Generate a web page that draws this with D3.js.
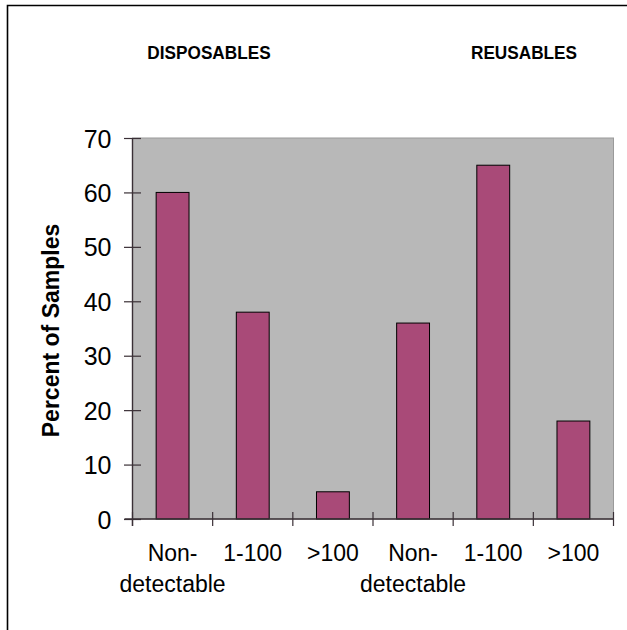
<!DOCTYPE html>
<html>
<head>
<meta charset="utf-8">
<script src="https://cdn.jsdelivr.net/npm/d3@7"></script>
<style>
  html, body { margin: 0; padding: 0; background: #fff; }
  svg { display: block; }
  text { font-family: "Liberation Sans", Arial, sans-serif; fill: #000; }
</style>
</head>
<body>
<div id="chart"></div>
<script>
// ---- data ----
const categories = ["Non-detectable", "1-100", ">100", "Non-detectable", "1-100", ">100"];
const categoryLines = [["Non-", "detectable"], ["1-100"], [">100"], ["Non-", "detectable"], ["1-100"], [">100"]];
const values = [60, 38, 5, 36, 65, 18];
const groupTitles = ["DISPOSABLES", "REUSABLES"];
const yTicks = [0, 10, 20, 30, 40, 50, 60, 70];
const yTitle = "Percent of Samples";

// ---- layout ----
const W = 627, H = 630;
const plot = { left: 132.5, right: 613.5, top: 138, bottom: 519 };

const svg = d3.select("#chart").append("svg")
  .attr("width", W).attr("height", H);

svg.append("rect").attr("width", W).attr("height", H).attr("fill", "#fff");

// outer frame (extends past the right and bottom edges)
svg.append("path")
  .attr("d", `M7.5,${H + 10} V5.5 H${W + 10}`)
  .attr("fill", "none").attr("stroke", "#000").attr("stroke-width", 1.6);

const idx = categories.map((d, i) => i);
const x = d3.scaleBand().domain(idx).range([plot.left, plot.right])
  .paddingInner(0.59).paddingOuter(0.295);
const y = d3.scaleLinear().domain([0, 70]).range([plot.bottom, plot.top]);

// plot area background
svg.append("rect")
  .attr("x", plot.left).attr("y", plot.top)
  .attr("width", plot.right - plot.left).attr("height", plot.bottom - plot.top)
  .attr("fill", "#b8b8b8")
  .attr("stroke", "#9a9a9a").attr("stroke-width", 1);

// bars
svg.append("g").selectAll("rect").data(values).join("rect")
  .attr("x", (d, i) => x(i))
  .attr("y", d => y(d))
  .attr("width", x.bandwidth())
  .attr("height", d => y(0) - y(d))
  .attr("fill", "#a94a78")
  .attr("stroke", "#000").attr("stroke-width", 1);

// y axis
const yAxis = d3.axisLeft(y).tickValues(yTicks).tickSize(0).tickPadding(0);
const yg = svg.append("g").attr("transform", `translate(${plot.left},0)`).call(yAxis);
yg.select(".domain").remove();
yg.selectAll(".tick text")
  .attr("x", -21)
  .attr("dy", "0.36em")
  .style("font-family", "'Liberation Sans', Arial, sans-serif")
  .style("font-size", "25px").attr("fill", "#000");
yg.selectAll(".tick").append("line")
  .attr("x1", -8.5).attr("x2", 8.5)
  .attr("stroke", "#3a3036").attr("stroke-width", 1.2);
yg.append("line")
  .attr("x1", 0).attr("x2", 0)
  .attr("y1", plot.top).attr("y2", plot.bottom + 7)
  .attr("stroke", "#3a3036").attr("stroke-width", 1.4);

// x axis line and boundary ticks
const step = x.step();
const boundaries = d3.range(categories.length + 1).map(i => plot.left + i * step);
svg.append("line")
  .attr("x1", plot.left - 8).attr("x2", plot.right)
  .attr("y1", plot.bottom).attr("y2", plot.bottom)
  .attr("stroke", "#3a3036").attr("stroke-width", 1.4);
svg.append("g").selectAll("line").data(boundaries).join("line")
  .attr("x1", d => d).attr("x2", d => d)
  .attr("y1", plot.bottom - 7).attr("y2", plot.bottom + 7)
  .attr("stroke", "#3a3036").attr("stroke-width", 1.2);

// x labels
const xl = svg.append("g").selectAll("text").data(categoryLines).join("text")
  .attr("text-anchor", "middle")
  .style("font-size", "23px");
xl.each(function (lines, i) {
  const t = d3.select(this);
  lines.forEach((ln, j) => {
    t.append("tspan")
      .attr("x", x(i) + x.bandwidth() / 2)
      .attr("y", 561 + j * 31)
      .text(ln);
  });
});

// group titles
const titleX = [209, 524];
svg.append("g").selectAll("text").data(groupTitles).join("text")
  .attr("transform", (d, i) => `translate(${titleX[i]},59) scale(0.93,1)`)
  .attr("text-anchor", "middle")
  .style("font-size", "18.5px").style("font-weight", "bold")
  .text(d => d);

// y title
svg.append("text")
  .attr("transform", `translate(59,${(plot.top + plot.bottom) / 2 + 2}) rotate(-90)`)
  .attr("text-anchor", "middle")
  .style("font-size", "23px").style("font-weight", "bold")
  .text(yTitle);
</script>
</body>
</html>
